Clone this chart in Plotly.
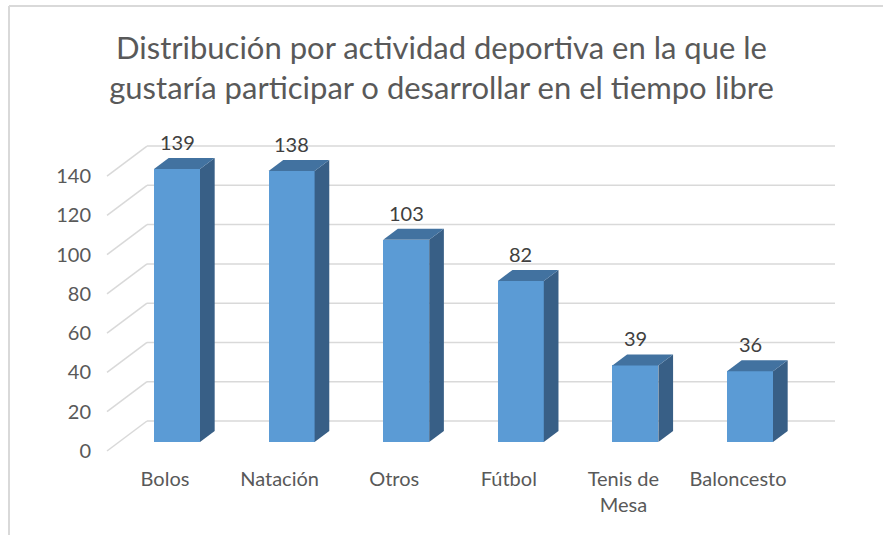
import plotly.graph_objects as go

categories = ["Bolos", "Natación", "Otros", "Fútbol", "Tenis de Mesa", "Baloncesto"]
tick_labels = ["Bolos", "Natación", "Otros", "Fútbol", "Tenis de<br>Mesa", "Baloncesto"]
values = [139, 138, 103, 82, 39, 36]
y_ticks = [0, 20, 40, 60, 80, 100, 120, 140]

title_text = ("Distribución por actividad deportiva en la que le<br>"
              "gustaría participar o desarrollar en el tiempo libre")

# ---- pseudo-3D geometry (pixel based, converted to data units) ----
W, H = 883, 535
ML, MR, MT, MB = 100, 43, 120, 70
PX_CAT = 114.6          # px per category
PX_UNIT = 1.964         # px per value unit
X0_PX = 165             # front-edge pixel of category 0
Y0_PX = 451             # front-edge pixel of value 0
FLOOR_DX = 40 / PX_CAT  # full floor depth, x in category units
FLOOR_DY = 30 / PX_UNIT # full floor depth, y in value units
T_FRONT, T_BACK = 0.30, 0.667
BAR_W = 46 / PX_CAT
WALL_RIGHT = (835 - X0_PX) / PX_CAT
WALL_LEFT_FRONT = (107 - X0_PX) / PX_CAT

x_range = [(ML - X0_PX) / PX_CAT, (W - MR - X0_PX) / PX_CAT]
y_range = [(Y0_PX - (H - MB)) / PX_UNIT, (Y0_PX - MT) / PX_UNIT]

FRONT = "#5B9BD5"
TOP = "#4272A0"
SIDE = "#385F86"
GRID = "#D9D9D9"
TXT = "#595959"
FONT = "Lato"

fig = go.Figure()
shapes = []

# back wall gridlines and side-wall diagonals
for v in y_ticks:
    yb = v + FLOOR_DY
    shapes.append(dict(type="line", xref="x", yref="y",
                       x0=WALL_LEFT_FRONT + FLOOR_DX, y0=yb, x1=WALL_RIGHT, y1=yb,
                       line=dict(color=GRID, width=1.5), layer="below"))
    shapes.append(dict(type="line", xref="x", yref="y",
                       x0=WALL_LEFT_FRONT, y0=v, x1=WALL_LEFT_FRONT + FLOOR_DX, y1=yb,
                       line=dict(color=GRID, width=1.5), layer="below"))

fdx, fdy = T_FRONT * FLOOR_DX, T_FRONT * FLOOR_DY
ddx, ddy = (T_BACK - T_FRONT) * FLOOR_DX, (T_BACK - T_FRONT) * FLOOR_DY
xs = [i + fdx for i in range(len(values))]

# front faces
fig.add_trace(go.Bar(x=xs, y=values, base=[fdy] * len(values), width=BAR_W,
                     marker=dict(color=FRONT, line=dict(width=0)),
                     hoverinfo="skip", showlegend=False))

annotations = []
for i, v in enumerate(values):
    xl, xr = xs[i] - BAR_W / 2, xs[i] + BAR_W / 2
    yb, yt = fdy, fdy + v
    # side face
    fig.add_trace(go.Scatter(x=[xr, xr + ddx, xr + ddx, xr, xr],
                             y=[yb, yb + ddy, yt + ddy, yt, yb],
                             fill="toself", fillcolor=SIDE, mode="lines",
                             line=dict(width=0, color=SIDE), hoverinfo="skip",
                             showlegend=False))
    # top face
    fig.add_trace(go.Scatter(x=[xl, xr, xr + ddx, xl + ddx, xl],
                             y=[yt, yt, yt + ddy, yt + ddy, yt],
                             fill="toself", fillcolor=TOP, mode="lines",
                             line=dict(width=0, color=TOP), hoverinfo="skip",
                             showlegend=False))
    annotations.append(dict(x=xs[i], y=yt + ddy, xref="x", yref="y",
                            text=str(v), showarrow=False, yanchor="bottom",
                            yshift=2, font=dict(family=FONT, size=20, color="#404040")))

px_x = lambda p: (p - ML) / (W - ML - MR)
px_y = lambda p: (H - MB - p) / (H - MT - MB)

fig.update_layout(
    width=W, height=H,
    margin=dict(l=ML, r=MR, t=MT, b=MB),
    paper_bgcolor="white", plot_bgcolor="rgba(0,0,0,0)",
    title=dict(text=title_text, x=0.5, xref="container", xanchor="center",
               y=1 - 59 / H, yref="container", yanchor="top",
               font=dict(family=FONT, size=31, color=TXT)),
    xaxis=dict(range=x_range, tickmode="array", tickvals=list(range(len(values))),
               ticktext=tick_labels, showgrid=False, zeroline=False, showline=False,
               ticks="", tickfont=dict(family=FONT, size=20, color=TXT), fixedrange=True),
    yaxis=dict(range=y_range, tickmode="array", tickvals=y_ticks,
               showgrid=False, zeroline=False, showline=False, ticks="",
               ticklabelstandoff=8,
               tickfont=dict(family=FONT, size=20, color=TXT), fixedrange=True),
    shapes=shapes + [
        dict(type="line", xref="paper", yref="paper", x0=px_x(9), x1=px_x(W + 5),
             y0=px_y(6), y1=px_y(6), line=dict(color=GRID, width=2)),
        dict(type="line", xref="paper", yref="paper", x0=px_x(9), x1=px_x(9),
             y0=px_y(6), y1=px_y(H + 5), line=dict(color=GRID, width=2)),
    ],
    annotations=annotations,
    bargap=0,
)

fig.write_html("out.html", config={"displayModeBar": False},
               post_script="document.body.style.margin='0';")
